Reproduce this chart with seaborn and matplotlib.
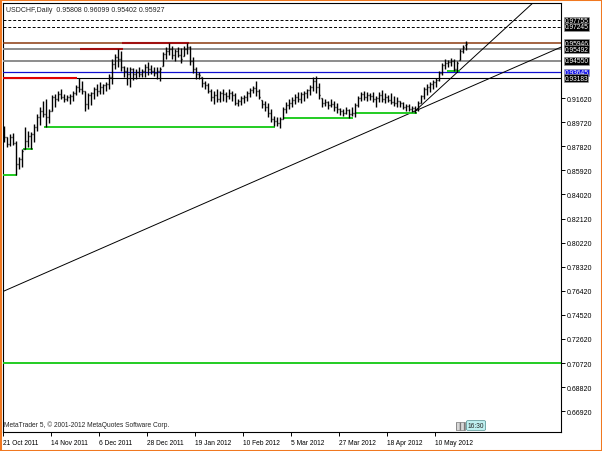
import numpy as np
import matplotlib
matplotlib.use("Agg")
import matplotlib.pyplot as plt
import matplotlib.transforms as mtransforms
from matplotlib.patches import Rectangle
import seaborn as sns

# ---------------- data ----------------
title_text = "USDCHF,Daily  0.95808 0.96099 0.95402 0.95927"
copyright_text = "MetaTrader 5, \u00a9 2001-2012 MetaQuotes Software Corp."

opens = [
    .8879, .8855, .8800, .8855, .8808, .8642, .8682, .8761, .8824, .8863,
    .8879, .8934, .9013, .9060, .9037, .9013, .9060, .9171, .9155, .9195,
    .9171, .9155, .9171, .9179, .9202, .9250, .9234, .9218, .9116, .9187,
    .9202, .9234, .9218, .9250, .9266, .9274, .9329, .9431, .9487, .9471,
    .9408, .9376, .9352, .9392, .9352, .9368, .9352, .9376, .9408, .9392,
    .9376, .9360, .9376, .9416, .9510, .9534, .9550, .9502, .9534, .9502,
    .9494, .9550, .9565, .9455, .9392, .9352, .9329, .9281, .9266, .9218,
    .9171, .9187, .9155, .9202, .9195, .9179, .9202, .9187, .9124, .9139,
    .9163, .9171, .9202, .9226, .9242, .9218, .9147, .9116, .9092, .9045,
    .8997, .8982, .8966, .8997, .9076, .9108, .9124, .9147, .9171, .9155,
    .9195, .9202, .9226, .9250, .9297, .9250, .9163, .9124, .9131, .9108,
    .9116, .9092, .9076, .9060, .9045, .9068, .9037, .9045, .9108, .9163,
    .9195, .9171, .9187, .9179, .9155, .9163, .9187, .9155, .9171, .9147,
    .9131, .9124, .9139, .9124, .9092, .9100, .9076, .9084, .9076, .9124,
    .9179, .9234, .9250, .9274, .9289, .9305, .9360, .9423, .9439, .9447,
    .9455, .9392, .9463, .9534, .95808,
]
highs = [
    .8942, .8855, .8879, .8887, .8824, .8698, .8761, .8934, .8903, .8895,
    .8958, .9037, .9092, .9139, .9155, .9076, .9187, .9195, .9218, .9234,
    .9195, .9187, .9195, .9218, .9266, .9321, .9297, .9218, .9202, .9210,
    .9250, .9274, .9289, .9274, .9289, .9352, .9471, .9510, .9550, .9534,
    .9416, .9408, .9408, .9400, .9392, .9408, .9392, .9431, .9447, .9423,
    .9408, .9408, .9408, .9526, .9565, .9595, .9573, .9550, .9565, .9558,
    .9573, .9595, .9573, .9487, .9408, .9368, .9329, .9297, .9281, .9234,
    .9218, .9234, .9218, .9234, .9210, .9234, .9218, .9202, .9155, .9179,
    .9187, .9218, .9242, .9258, .9297, .9234, .9147, .9139, .9124, .9076,
    .9021, .9013, .9013, .9092, .9131, .9155, .9171, .9195, .9210, .9210,
    .9218, .9234, .9266, .9329, .9337, .9281, .9163, .9155, .9139, .9155,
    .9139, .9124, .9084, .9076, .9092, .9076, .9092, .9124, .9179, .9210,
    .9218, .9210, .9202, .9210, .9179, .9210, .9226, .9202, .9187, .9202,
    .9179, .9171, .9139, .9131, .9116, .9116, .9100, .9100, .9139, .9187,
    .9250, .9274, .9289, .9305, .9321, .9376, .9439, .9471, .9463, .9479,
    .9471, .9455, .9550, .9581, .96099,
]
lows = [
    .8816, .8776, .8784, .8792, .8556, .8603, .8619, .8761, .8776, .8761,
    .8816, .8903, .8950, .9013, .8934, .8966, .9060, .9092, .9139, .9155,
    .9131, .9139, .9116, .9139, .9187, .9210, .9195, .9060, .9076, .9108,
    .9155, .9179, .9195, .9195, .9218, .9234, .9274, .9392, .9408, .9376,
    .9329, .9266, .9250, .9305, .9313, .9329, .9329, .9329, .9345, .9352,
    .9337, .9313, .9297, .9416, .9471, .9502, .9471, .9455, .9487, .9439,
    .9494, .9510, .9423, .9360, .9313, .9313, .9250, .9234, .9202, .9139,
    .9116, .9131, .9131, .9139, .9131, .9155, .9139, .9108, .9100, .9108,
    .9124, .9139, .9171, .9202, .9179, .9155, .9084, .9060, .9013, .8974,
    .8942, .8942, .8926, .8997, .9045, .9076, .9092, .9116, .9131, .9124,
    .9139, .9163, .9187, .9218, .9202, .9155, .9092, .9100, .9076, .9092,
    .9060, .9045, .9029, .9021, .9037, .9005, .9021, .9013, .9092, .9139,
    .9147, .9139, .9147, .9131, .9092, .9131, .9131, .9124, .9131, .9116,
    .9100, .9092, .9092, .9076, .9060, .9060, .9053, .9045, .9060, .9124,
    .9155, .9187, .9210, .9234, .9250, .9297, .9345, .9392, .9408, .9416,
    .9376, .9368, .9463, .9518, .95402,
]
closes = [
    .8855, .8800, .8855, .8808, .8642, .8682, .8745, .8824, .8863, .8879,
    .8934, .9013, .9060, .9037, .9013, .9060, .9171, .9155, .9195, .9171,
    .9155, .9171, .9179, .9202, .9250, .9234, .9218, .9116, .9187, .9202,
    .9234, .9218, .9250, .9266, .9274, .9329, .9431, .9487, .9471, .9408,
    .9376, .9352, .9392, .9352, .9368, .9352, .9376, .9408, .9392, .9376,
    .9360, .9376, .9392, .9510, .9534, .9550, .9502, .9534, .9502, .9471,
    .9550, .9565, .9455, .9392, .9352, .9345, .9281, .9266, .9218, .9171,
    .9187, .9155, .9202, .9195, .9179, .9202, .9187, .9124, .9139, .9163,
    .9171, .9202, .9226, .9242, .9218, .9171, .9116, .9092, .9045, .8997,
    .8982, .8966, .8997, .9076, .9108, .9124, .9147, .9171, .9155, .9195,
    .9202, .9226, .9250, .9297, .9250, .9187, .9124, .9131, .9108, .9116,
    .9092, .9076, .9060, .9045, .9068, .9037, .9045, .9108, .9163, .9195,
    .9171, .9187, .9179, .9155, .9163, .9187, .9155, .9171, .9147, .9131,
    .9124, .9139, .9124, .9092, .9100, .9076, .9084, .9076, .9124, .9179,
    .9234, .9250, .9274, .9289, .9305, .9360, .9423, .9439, .9447, .9455,
    .9392, .9439, .9534, .9565, .95927,
]

date_labels = ["21 Oct 2011", "14 Nov 2011", "6 Dec 2011", "28 Dec 2011",
               "19 Jan 2012", "10 Feb 2012", "5 Mar 2012", "27 Mar 2012",
               "18 Apr 2012", "10 May 2012"]
date_label_bars = [0, 16, 32, 48, 64, 80, 96, 112, 128, 144]

price_ticks = [0.91620, 0.89720, 0.87820, 0.85920, 0.84020, 0.82120, 0.80220,
               0.78320, 0.76420, 0.74520, 0.72620, 0.70720, 0.68820, 0.66920]

dashed_levels = [0.97755, 0.97245]
brown_level = 0.95946
gray_levels = [0.95492, 0.94550]
blue_level = 0.93645
black_level = 0.93183
green_full_level = 0.70720
label_levels = [0.97755, 0.97245, 0.95946, 0.95492, 0.94550, 0.93645, 0.93183]

# short support (green) segments: start bar, end bar, price
green_start = [-0.5, 6.3, 13.5, 93.3, 117.3, 147.7]
green_end = [4.3, 9.7, 90.3, 116.3, 137.7, 152.0]
green_price = [0.8558, 0.8761, 0.8934, 0.9005, 0.9045, 0.9376]
# resistance segments
red_start, red_end, red_price = -0.5, 24.3, 0.93183
darkred_start = [25.3, 39.3]
darkred_end = [39.7, 61.7]
darkred_price = [0.95492, 0.95946]

# trend lines: anchor points (bar, price)
long_trend = [(0, 0.7640), (137, 0.9060)]
steep_trend = [(137, 0.9060), (157, 0.9494)]

# ---------------- figure ----------------
sns.set_style("white")
plt.rcParams["font.family"] = ["Liberation Sans", "DejaVu Sans"]

W, H = 602, 452
fig = plt.figure(figsize=(W / 100, H / 100), dpi=100)
fig.patch.set_facecolor("white")
left_px, right_px, top_px, bot_px = 2.5, 561, 4.3, 433.3
ax = fig.add_axes([left_px / W, 1 - bot_px / H, (right_px - left_px) / W,
                   (bot_px - top_px) / H])
ax.set_facecolor("white")

n = len(closes)
idx = np.arange(n)
ax.set_xlim(-0.5, 185.67)
ax.set_ylim(0.65254, 0.99102)

# horizontal levels
for lv in dashed_levels:
    ax.axhline(lv, color="black", lw=0.7, ls=(0, (3, 2)), zorder=3)
ax.axhline(brown_level, color="#8b3a0f", lw=1.1, zorder=3)
for lv in gray_levels:
    ax.axhline(lv, color="#8c8c8c", lw=1.4, zorder=3)
ax.axhline(blue_level, color="#1010d0", lw=0.9, zorder=3)
ax.axhline(black_level, color="black", lw=0.8, zorder=3)
ax.axhline(green_full_level, color="#22cc22", lw=1.4, zorder=3)

ax.hlines(green_price, green_start, green_end, color="#22cc22", lw=1.4, zorder=4)
ax.hlines([red_price], [red_start], [red_end], color="#e00000", lw=1.5, zorder=4)
ax.hlines(darkred_price, darkred_start, darkred_end, color="#a01010", lw=1.5, zorder=4)

# trend lines
xl = ax.get_xlim()
(x1, y1), (x2, y2) = long_trend
s = (y2 - y1) / (x2 - x1)
lx = np.array([xl[0], xl[1]])
sns.lineplot(x=lx, y=y1 + s * (lx - x1), ax=ax, color="black", lw=0.7,
             legend=False, zorder=3)
(x1, y1), (x2, y2) = steep_trend
s = (y2 - y1) / (x2 - x1)
sx = np.array([x1, xl[1] + 20])
sns.lineplot(x=sx, y=y1 + s * (sx - x1), ax=ax, color="black", lw=0.7,
             legend=False, zorder=3)

# OHLC bars
ax.vlines(idx, lows, highs, color="black", lw=1.0, zorder=5)
ax.hlines(opens, idx - 0.4, idx, color="black", lw=1.0, zorder=5)
ax.hlines(closes, idx, idx + 0.4, color="black", lw=1.0, zorder=5)

ax.set_xlim(*xl)
ax.set_xlabel("")
ax.set_ylabel("")

# axes frame
for sp in ax.spines.values():
    sp.set_visible(True)
    sp.set_color("black")
    sp.set_linewidth(0.8)

# y ticks on the right
ax.yaxis.tick_right()
ax.set_yticks(price_ticks)
ax.set_yticklabels([f"{p:.5f}" for p in price_ticks])
ax.tick_params(axis="y", direction="out", length=3, width=0.7, pad=1,
               labelsize=5, colors="black", right=True, left=False)

# date ticks
ax.set_xticks([b - 0.3 for b in date_label_bars])
ax.set_xticklabels(date_labels)
ax.tick_params(axis="x", direction="out", length=3, width=0.7, pad=1.5,
               labelsize=4.8, colors="black", bottom=True)
for lbl in ax.get_xticklabels():
    lbl.set_horizontalalignment("left")

# price labels on right
trans = mtransforms.blended_transform_factory(ax.transAxes, ax.transData)
trans = mtransforms.offset_copy(trans, fig=fig, x=2.5, y=0, units="points")
for lv in label_levels:
    fc = "#1414e6" if lv == blue_level else "black"
    ax.text(1.0, lv, f"{lv:.5f}", transform=trans, ha="left", va="center",
            fontsize=4.8, color="white", clip_on=False, zorder=10,
            bbox=dict(boxstyle="square,pad=0.05", fc=fc, ec="#9a9a9a", lw=0.4))

# texts
fig.text(6 / W, 1 - 10 / H, title_text, fontsize=5, va="center", ha="left")
fig.text(4 / W, 1 - 425.5 / H, copyright_text, fontsize=4.8, va="center", ha="left")

# small time box
fig.patches.append(Rectangle((456 / W, 1 - 431 / H), 9 / W, 8 / H,
                             transform=fig.transFigure, fc="#d8d8d8",
                             ec="#7a7a7a", lw=0.5, hatch="||||"))
fig.text(476 / W, 1 - 426.5 / H, "16:30", fontsize=4.8, va="center", ha="center",
         bbox=dict(boxstyle="round,pad=0.2", fc="#bff0f0", ec="#4a8a8a", lw=0.5))

# orange outer border
fig.patches.append(Rectangle((0, 0), 1, 1, transform=fig.transFigure,
                             fill=False, ec="#f07820", lw=2.2))

fig.savefig("out.png", dpi=100)
